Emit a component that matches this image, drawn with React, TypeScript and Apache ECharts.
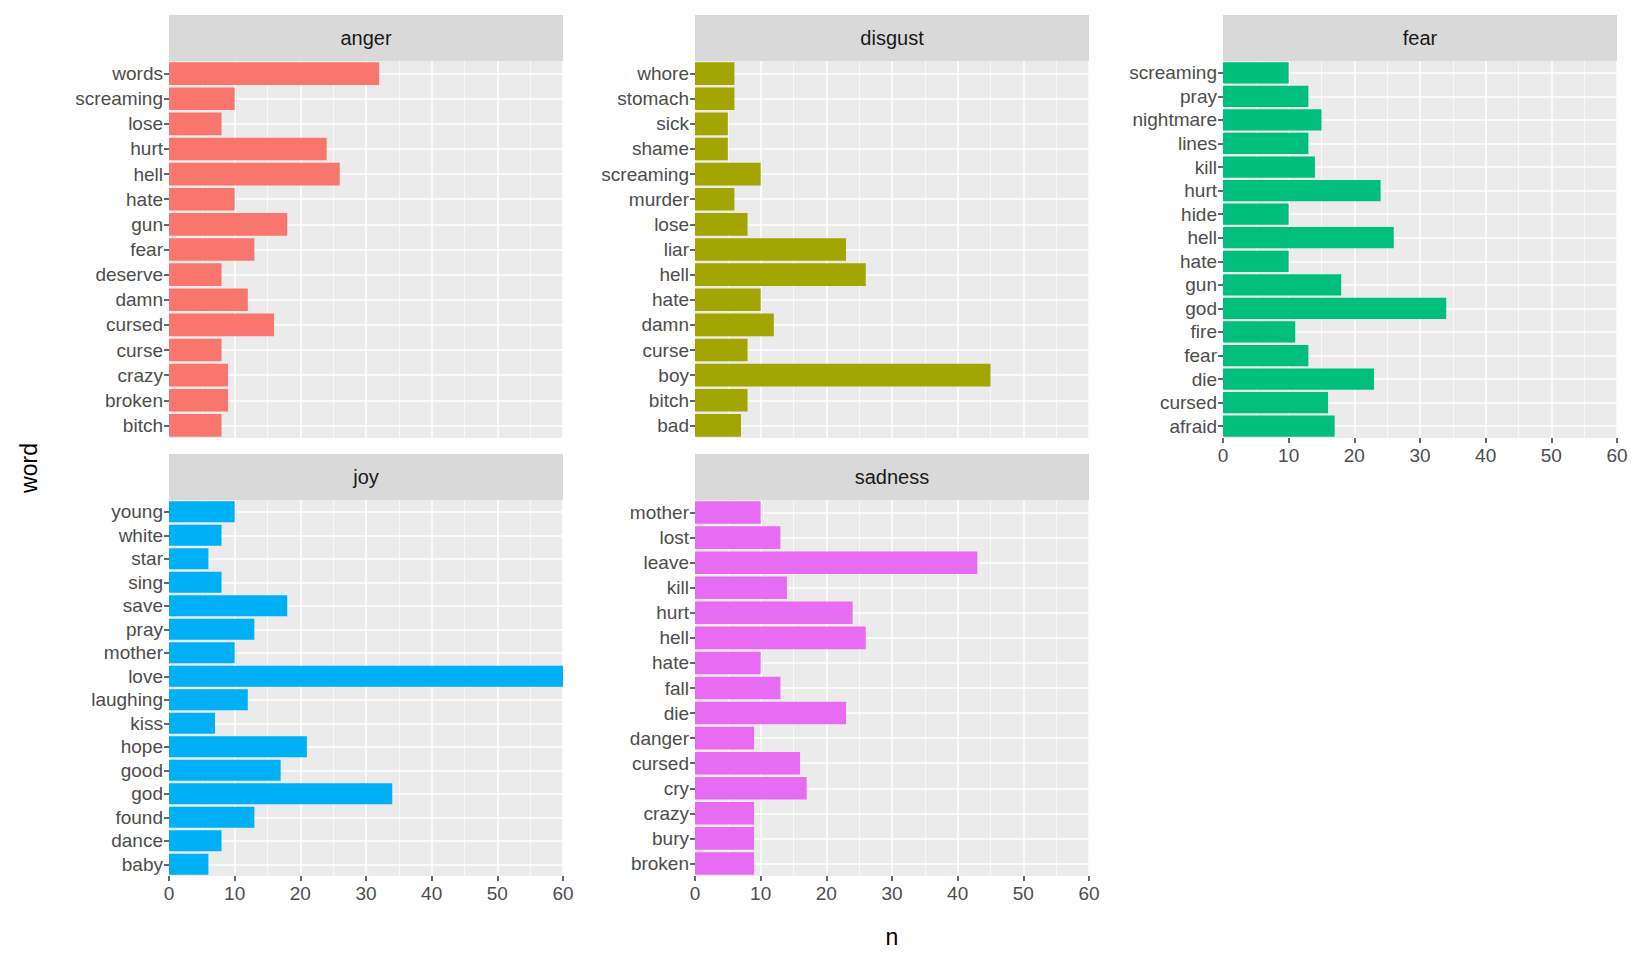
import React, { useEffect, useRef } from "react";
import * as echarts from "echarts";

const angerWords = ["words","screaming","lose","hurt","hell","hate","gun","fear","deserve","damn","cursed","curse","crazy","broken","bitch"];
const angerN = [32,10,8,24,26,10,18,13,8,12,16,8,9,9,8];
const disgustWords = ["whore","stomach","sick","shame","screaming","murder","lose","liar","hell","hate","damn","curse","boy","bitch","bad"];
const disgustN = [6,6,5,5,10,6,8,23,26,10,12,8,45,8,7];
const fearWords = ["screaming","pray","nightmare","lines","kill","hurt","hide","hell","hate","gun","god","fire","fear","die","cursed","afraid"];
const fearN = [10,13,15,13,14,24,10,26,10,18,34,11,13,23,16,17];
const joyWords = ["young","white","star","sing","save","pray","mother","love","laughing","kiss","hope","good","god","found","dance","baby"];
const joyN = [10,8,6,8,18,13,10,60,12,7,21,17,34,13,8,6];
const sadnessWords = ["mother","lost","leave","kill","hurt","hell","hate","fall","die","danger","cursed","cry","crazy","bury","broken"];
const sadnessN = [10,13,43,14,24,26,10,13,23,9,16,17,9,9,9];
const xTicks = [0, 10, 20, 30, 40, 50, 60];

const panels = [
  { name: "anger", words: angerWords, n: angerN, color: "#F8766D", left: 169, top: 61, h: 377, xl: false },
  { name: "disgust", words: disgustWords, n: disgustN, color: "#A3A500", left: 695, top: 61, h: 377, xl: false },
  { name: "fear", words: fearWords, n: fearN, color: "#00BF7D", left: 1223, top: 61, h: 377, xl: true },
  { name: "joy", words: joyWords, n: joyN, color: "#00B0F6", left: 169, top: 500, h: 376, xl: true },
  { name: "sadness", words: sadnessWords, n: sadnessN, color: "#E76BF3", left: 695, top: 500, h: 376, xl: true },
];
const W = 394;
const FONT = "Liberation Sans, Arial, sans-serif";

export default function App() {
  const ref = useRef<HTMLDivElement>(null);
  useEffect(() => {
    document.body.style.margin = "0";
    const chart = echarts.init(ref.current!, null, { renderer: "svg" });
    const grid: any[] = [], xAxis: any[] = [], yAxis: any[] = [], series: any[] = [], graphic: any[] = [];
    panels.forEach((p, i) => {
      const cats = p.words.slice().reverse();
      const vals = p.n.slice().reverse();
      grid.push({ left: p.left, top: p.top, width: W, height: p.h, backgroundColor: "#EBEBEB", show: true, borderWidth: 0 });
      xAxis.push({
        gridIndex: i, type: "value", min: xTicks[0], max: xTicks[xTicks.length - 1], interval: 10,
        axisLine: { show: false },
        axisTick: { show: p.xl, length: 5, lineStyle: { color: "#333", width: 1.5 } },
        axisLabel: { show: p.xl, color: "#4D4D4D", fontSize: 19, fontFamily: FONT, margin: 8 },
        splitLine: { lineStyle: { color: "#fff", width: 1.5 } },
        minorTick: { show: false, splitNumber: 2 },
        minorSplitLine: { show: true, lineStyle: { color: "#fff", width: 0.7 } },
      });
      yAxis.push({
        gridIndex: i, type: "category", data: cats,
        axisLine: { show: false },
        axisTick: { show: true, alignWithLabel: true, interval: 0, length: 5, lineStyle: { color: "#333", width: 1.5 } },
        axisLabel: { color: "#4D4D4D", fontSize: 19, fontFamily: FONT, margin: 6, interval: 0 },
        splitLine: { show: false },
      });
      series.push({
        type: "line", xAxisIndex: i, yAxisIndex: i, data: [], z: 1, silent: true,
        markLine: {
          silent: true, symbol: "none", label: { show: false }, z: 1,
          lineStyle: { color: "#fff", width: 1.5, type: "solid" },
          data: cats.map((c) => ({ yAxis: c })),
        },
      });
      series.push({
        type: "bar", xAxisIndex: i, yAxisIndex: i, data: vals, barWidth: "90%", z: 10,
        itemStyle: { color: p.color },
      });
      graphic.push({
        type: "rect", shape: { x: p.left, y: p.top - 46, width: W, height: 46 },
        style: { fill: "#D9D9D9" },
      });
      graphic.push({
        type: "text", x: p.left + W / 2, y: p.top - 23,
        style: { text: p.name, fill: "#1A1A1A", font: `20px ${FONT}`, align: "center", verticalAlign: "middle" },
      });
    });
    graphic.push({
      type: "text", x: 892, y: 937,
      style: { text: "n", fill: "#000", font: `23px ${FONT}`, align: "center", verticalAlign: "middle" },
    });
    graphic.push({
      type: "text", x: 29, y: 468, rotation: Math.PI / 2,
      style: { text: "word", fill: "#000", font: `23px ${FONT}`, align: "center", verticalAlign: "middle" },
    });
    chart.setOption({ animation: false, grid, xAxis, yAxis, series, graphic });
    return () => chart.dispose();
  }, []);
  return <div ref={ref} style={{ width: 1632, height: 960, background: "#fff" }} />;
}
